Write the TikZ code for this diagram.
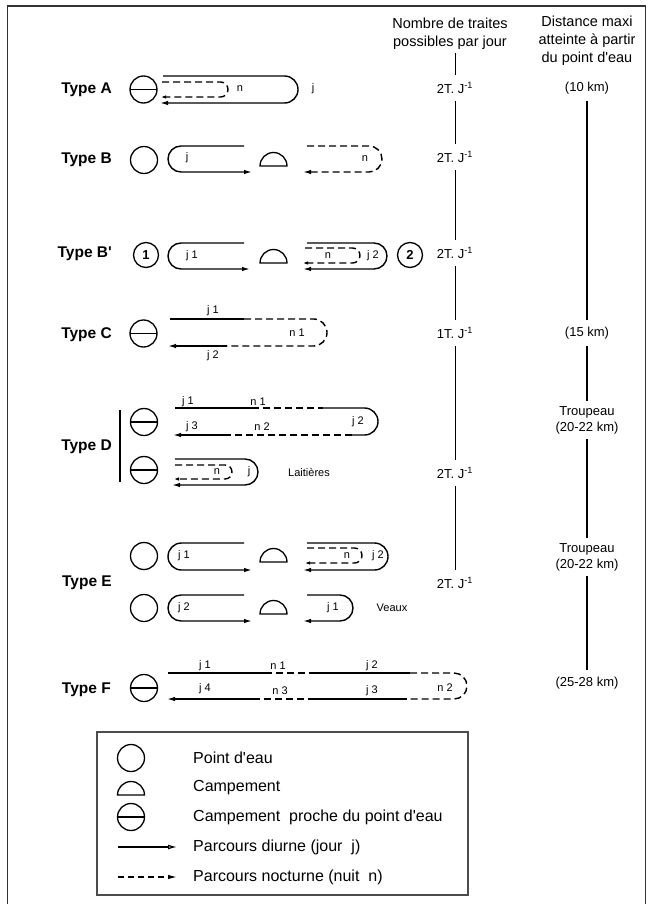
\documentclass[tikz,border=0pt]{standalone}
\usepackage{fontspec}
\setmainfont{Liberation Sans}
\usetikzlibrary{arrows.meta}

\tikzset{
  route/.style={line width=1.4pt},
  night/.style={route, dash pattern=on 7pt off 4pt},
  tipL/.style={-{Latex[length=8pt,width=4.5pt]}},
  tipS/.style={-{Latex[length=5pt,width=3.5pt]}},
  water/.style={circle, draw, line width=1.3pt, minimum size=27pt, inner sep=0pt},
  nearwater/.style={water, path picture={\draw[line width=1.3pt]
      (path picture bounding box.west) -- (path picture bounding box.east);}},
  numwater/.style={circle, draw, line width=1.3pt, minimum size=25pt, inner sep=0pt,
      font=\bfseries\fontsize{13}{15}\selectfont},
  typ/.style={anchor=east, inner sep=0pt, font=\bfseries\fontsize{15.5}{18}\selectfont},
  lab/.style={inner sep=0pt, font=\fontsize{11}{13}\selectfont},
  col/.style={inner sep=0pt, minimum height=26pt, font=\fontsize{13}{15}\selectfont},
  coltwo/.style={inner sep=0pt, inner ysep=5pt, align=center, font=\fontsize{13}{16}\selectfont},
  head/.style={inner sep=0pt, align=center, font=\fontsize{14.5}{18}\selectfont},
  leg/.style={anchor=west, inner sep=0pt, font=\fontsize{16}{19}\selectfont},
  colline/.style={line width=1pt},
  distline/.style={line width=1.4pt},
  pics/camp/.style={code={\draw[line width=1.3pt] (-13.5,0) arc (180:0:13.5) -- cycle;}},
}

\begin{document}
\begin{tikzpicture}[x=1pt,y=1pt]
\useasboundingbox (0,0) rectangle (649,-904);
\fill[white] (0,0) rectangle (649,-904);

% outer frame
\draw[line width=1.2pt, black!80] (7.5,-904) -- (7.5,-6) -- (645.5,-6) -- (645.5,-904);

% column headings
\node[head] (h1) at (450,-33.5) {Nombre de traites\\possibles par jour};
\node[head] (h2) at (587,-41) {Distance maxi\\atteinte à partir\\du point d\textquotesingle eau};

% ---------- Type A ----------
\node[typ] (tA) at (112,-90) {Type A};
\node[nearwater] (wA) at (143.5,-89.5) {};
\draw[route,tipL] (163,-76) -- (284.5,-76) arc (90:-90:13.5) -- (160,-103);
\draw[night,tipS] (162,-82) -- (220.5,-82) arc (90:-90:7.5) -- (161,-97);
\node[lab] (nA) at (240,-89) {n};
\node[lab] (jA) at (313,-89) {j};

% ---------- Type B ----------
\node[typ] (tB) at (112,-160) {Type B};
\node[water] (wB) at (144,-160) {};
\draw[route,tipL] (244,-146) -- (181,-146) arc (90:270:13) -- (252,-172);
\pic (cB) at (273.5,-166) {camp};
\draw[night,tipL] (307,-146) -- (369,-146) arc (90:-90:13) -- (303,-172);
\node[lab] (jB) at (187,-158) {j};
\node[lab] (nB) at (365,-159) {n};

% ---------- Type B' ----------
\node[typ] (tBp) at (112,-254) {Type B\textquotesingle};
\node[numwater] (w1) at (146,-255) {1};
\draw[route,tipL] (244,-243) -- (181,-243) arc (90:270:13) -- (250,-269);
\pic (cBp) at (273.5,-263) {camp};
\draw[route,tipL] (307,-243) -- (374,-243) arc (90:-90:13) -- (303,-269);
\draw[night,tipS] (305,-248) -- (352.5,-248) arc (90:-90:7.5) -- (303,-263);
\node[numwater] (w2) at (410,-255) {2};
\node[lab] (jBp1) at (192,-256) {j 1};
\node[lab] (nBp) at (328,-256) {n};
\node[lab] (jBp2) at (373,-256) {j 2};

% ---------- Type C ----------
\node[typ] (tC) at (112,-335) {Type C};
\node[nearwater] (wC) at (143.5,-333.5) {};
\draw[route] (170,-319) -- (244,-319);
\draw[night] (244,-319) -- (313.5,-319) arc (90:-90:13.5) -- (227,-346);
\draw[route,tipL] (227,-346) -- (168,-346);
\node[lab] (jC1) at (213,-311) {j 1};
\node[lab] (nC1) at (297,-333) {n 1};
\node[lab] (jC2) at (213,-356) {j 2};

% ---------- Type D ----------
\node[typ] (tD) at (112,-447) {Type D};
\draw[line width=1.2pt] (120,-410) -- (120,-482);
\node[nearwater] (wD1) at (144,-422) {};
\node[nearwater] (wD2) at (144,-470) {};
% herd
\draw[route] (175,-408) -- (252,-408);
\draw[night] (252,-408) -- (323,-408);
\draw[route] (323,-408) -- (364.5,-408) arc (90:-90:13.5) -- (352,-435);
\draw[night] (352,-435) -- (230,-435);
\draw[route,tipL] (230,-435) -- (173,-435);
\node[lab] (jD1) at (188,-402) {j 1};
\node[lab] (nD1) at (258,-402) {n 1};
\node[lab] (jD3) at (192,-427) {j 3};
\node[lab] (nD2) at (262,-427) {n 2};
\node[lab] (jD2) at (358,-422) {j 2};
% dairy cows
\draw[route,tipL] (175,-459) -- (245,-459) arc (90:-90:13) -- (172,-485);
\draw[night,tipS] (175,-465) -- (225,-465) arc (90:-90:7) -- (174,-479);
\node[lab] (nD) at (217,-472) {n};
\node[lab] (jD) at (249,-472) {j};
\node[lab] (lait) at (309,-472) {Laitières};

% ---------- Type E ----------
\node[typ] (tE) at (112,-583) {Type E};
\node[water] (wE1) at (144,-556) {};
\draw[route,tipL] (244,-543) -- (181.5,-543) arc (90:270:13.5) -- (252,-570);
\pic (cE1) at (273.5,-562) {camp};
\draw[route,tipL] (307,-543) -- (374.5,-543) arc (90:-90:13.5) -- (303,-570);
\draw[night,tipS] (307,-548) -- (354.5,-548) arc (90:-90:7.5) -- (305,-563);
\node[lab] (jE1) at (184,-556) {j 1};
\node[lab] (nE) at (347,-556) {n};
\node[lab] (jE2) at (378,-556) {j 2};

\node[water] (wE2) at (144,-608) {};
\draw[route,tipL] (244,-595) -- (181,-595) arc (90:270:13) -- (252,-621);
\pic (cE2) at (273.5,-614) {camp};
\draw[route,tipL] (307,-595) -- (340,-595) arc (90:-90:13) -- (303,-621);
\node[lab] (jE3) at (184,-608) {j 2};
\node[lab] (jE4) at (333,-608) {j 1};
\node[lab] (veaux) at (392,-608) {Veaux};

% ---------- Type F ----------
\node[typ] (tF) at (111,-690) {Type F};
\node[nearwater] (wF) at (144,-688) {};
\draw[route] (168,-673) -- (265,-673);
\draw[night] (265,-673) -- (312,-673);
\draw[route] (312,-673) -- (410,-673);
\draw[night] (410,-673) -- (454,-673) arc (90:-90:13) -- (407,-699);
\draw[route] (407,-699) -- (315,-699);
\draw[night] (315,-699) -- (253,-699);
\draw[route,tipL] (253,-699) -- (167,-699);
\node[lab] (jF1) at (205,-666) {j 1};
\node[lab] (nF1) at (278,-666) {n 1};
\node[lab] (jF2) at (372,-666) {j 2};
\node[lab] (jF4) at (205,-689) {j 4};
\node[lab] (nF3) at (280,-691) {n 3};
\node[lab] (jF3) at (372,-691) {j 3};
\node[lab] (nF2) at (445,-688) {n 2};

% ---------- column: number of moves per day ----------
\coordinate (ctop) at (455,-53);
\node[col] (cA) at (455,-88) {2T. J\textsuperscript{-1}};
\node[col] (cB) at (455,-157) {2T. J\textsuperscript{-1}};
\node[col] (cBp) at (455,-253) {2T. J\textsuperscript{-1}};
\node[col] (cC) at (455,-333) {1T. J\textsuperscript{-1}};
\node[col] (cD) at (455,-473) {2T. J\textsuperscript{-1}};
\node[col] (cE) at (455,-583) {2T. J\textsuperscript{-1}};
\draw[colline] (ctop) -- (cA.north);
\draw[colline] (cA.south) -- (cB.north);
\draw[colline] (cB.south) -- (cBp.north);
\draw[colline] (cBp.south) -- (cC.north);
\draw[colline] (cC.south) -- (cD.north);
\draw[colline] (cD.south) -- (cE.north);

% ---------- column: maximum distance ----------
\node[col] (d10) at (587,-88) {(10 km)};
\node[col] (d15) at (587,-333) {(15 km)};
\node[coltwo] (dT1) at (587,-420) {Troupeau\\(20-22 km)};
\node[coltwo] (dT2) at (587,-557) {Troupeau\\(20-22 km)};
\node[col] (d25) at (587,-683) {(25-28 km)};
\draw[distline] (d10.south) -- (d15.north);
\draw[distline] (d15.south) -- (dT1.north);
\draw[distline] (dT1.south) -- (dT2.north);
\draw[distline] (dT2.south) -- (d25.north);

% ---------- legend ----------
\draw[line width=1.1pt, black!70] (97,-732) rectangle (468,-895);
\node[water] (lw) at (131,-758) {};
\pic (lc) at (131,-795) {camp};
\node[nearwater] (lnw) at (131,-817) {};
\coordinate (la1) at (118,-847);
\coordinate (la2) at (177,-847);
\coordinate (lb1) at (118,-877);
\coordinate (lb2) at (177,-877);
\draw[line width=1.2pt, -{Latex[open,length=9pt,width=5pt]}] (la1) -- (la2);
\draw[line width=1.2pt, dash pattern=on 6pt off 4pt, -{Latex[length=9pt,width=4.5pt]}] (lb1) -- (lb2);
\node[leg] (t1) at (193,-758) {Point d\textquotesingle eau};
\node[leg] (t2) at (193,-788) {Campement};
\node[leg] (t3) at (193,-817) {Campement\ \ proche du point d\textquotesingle eau};
\node[leg] (t4) at (193,-847) {Parcours diurne (jour\ \ j)};
\node[leg] (t5) at (193,-877) {Parcours nocturne (nuit\ \ n)};
\end{tikzpicture}
\end{document}
